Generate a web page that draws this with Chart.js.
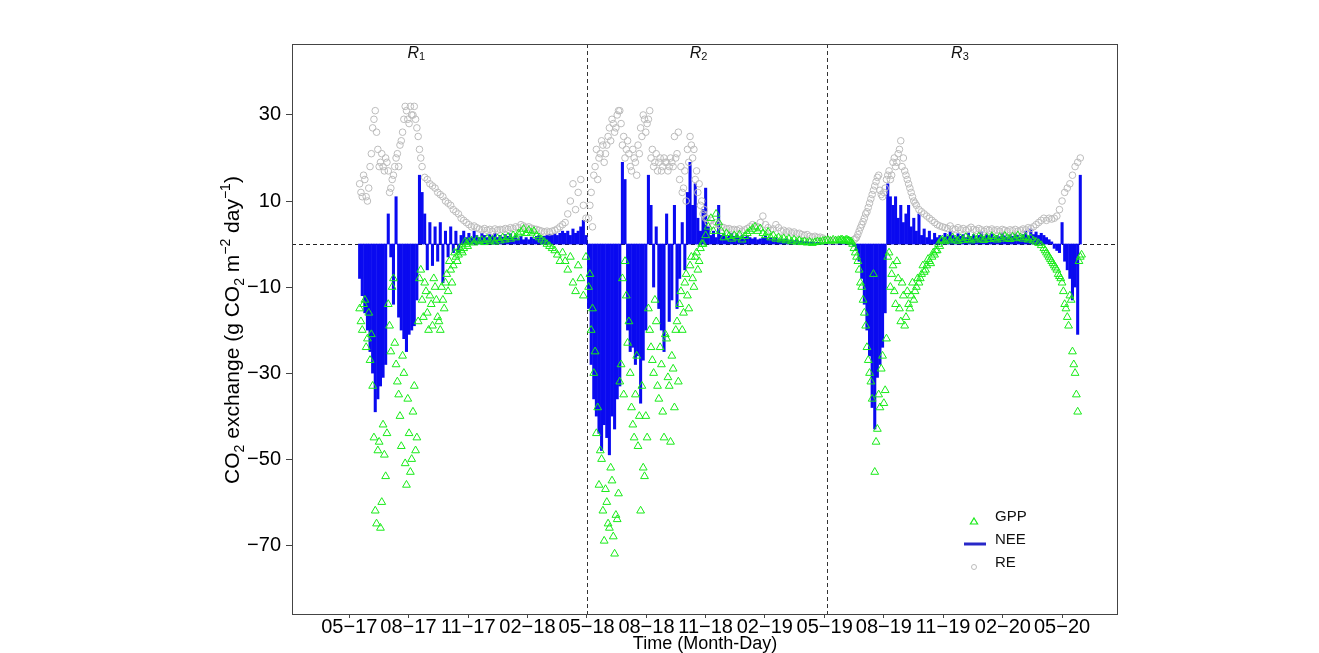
<!DOCTYPE html>
<html>
<head>
<meta charset="utf-8">
<script src="https://cdn.jsdelivr.net/npm/chart.js@4.4.1/dist/chart.umd.min.js"></script>
<style>
  html, body { margin: 0; padding: 0; background: #fff; }
</style>
</head>
<body>
<canvas id="fluxChart" width="1319" height="653"></canvas>
<script>
// time axis: days since 2017-05-01, one tick every 3 months
const tickDays = [0, 91, 183, 274, 365, 457, 548, 639, 731, 822, 913, 1005, 1096];
const tickLabels = ['05−17', '08−17', '11−17', '02−18', '05−18', '08−18', '11−18',
                    '02−19', '05−19', '08−19', '11−19', '02−20', '05−20'];
const yTickValues = [-70, -50, -30, -10, 10, 30];

// growing-season regions
const regionNames = ['1', '2', '3'];
const regionLabelDay = [103, 537, 939];
const regionBounds = [366, 734];

// readings: first day of each block, one value every 4 days
const blockStart = [16, 368, 752];
const stepDays = 4;

// GPP (g CO2 m-2 day-1)
const gppR1 = [
  -15, -20, -13, -22, -27, -33, -62, -48, -66, -42,
  -54, -14, -25, -8, -28, -35, -47, -30, -56, -44,
  -50, -33, -45, -8, -13, -9, -16, -12, -19, -10,
  -17, -20, -13, -9, -11, -6, -5, -3, -2.5, -1.5,
  -1, 0, 0.5, 0.8, 0.3, 1.0, 0.6, 0.9, 0.4, 1.2,
  0.7, 1.0, 0.5, 1.3, 0.8, 1.5, 1.0, 1.6, 1.2, 2.0,
  1.5, 2.4, 2.8, 3.5, 2.5, 3.2, 2.6, 3.0, 2.0, 1.5,
  1.0, 0.5, 0.0, -0.5, -1.0, -1.5, -2.5, -4, -2, -4,
  -6, -3, -9, -11, -5, -8, -12, -3
];
const gppR2 = [
  -10, -20, -30, -44, -56, -50, -69, -60, -66, -55,
  -72, -64, -32, -8, -4, -23, -30, -42, -35, -47,
  -62, -52, -40, -15, -24, -30, -18, -36, -28, -45,
  -22, -33, -26, -38, -18, -14, -20, -9, -12, -5,
  -8, -3, -6, -1, 0, 2, 4, 6, 3, 7,
  5, 3, 1.5, 2.5, 1.8, 1.2, 2.0, 1.5, 2.2, 1.0,
  1.8, 2.5, 3.0, 3.5, 4.0, 3.0, 3.6, 2.5, 2.0, 2.8,
  1.5, 2.0, 1.2, 1.5, 1.0, 1.3, 0.8, 1.2, 0.6, 1.0,
  0.5, 0.8, 0.4, 0.6, 0.3, 0.5, 0.2, 0.4, 0.6, 0.5,
  0.7, 0.8, 0.9, 0.7, 1.0, 0.8
];
const gppR3 = [
  0.9, 1.0, 0.8, 1.0, 0.8, 0.5, -1, -3, -6, -10,
  -16, -24, -30, -36, -53, -43, -38, -26, -34, -3,
  -10, -5, -14, -8, -18, -12, -17, -14, -12, -13,
  -10, -9, -7, -6.5, -5, -4, -3, -2.5, -1.5, -0.5,
  1.0, 0.6, 1.2, 0.8, 1.5, 1.0, 0.7, 1.3, 0.9, 1.6,
  1.1, 0.8, 1.4, 1.0, 1.7, 1.2, 0.9, 1.5, 1.1, 1.8,
  1.3, 1.0, 1.6, 1.2, 1.9, 1.4, 1.1, 1.7, 1.3, 2.0,
  1.5, 1.2, 1.6, 1.0, 1.3, 0.8, 0.5, 0.2, -0.3, -1,
  -2, -3, -4, -5, -6, -7.5, -9, -14, -17, -12,
  -25, -30, -39, -3
];

// extra GPP readings in between (the scattered growing seasons)
const gppMidStart = [18, 370, 754, 1070];
const gppMid1 = [
  -18, -14, -24, -16, -21, -45, -65, -46, -60, -49,
  -44, -19, -10, -23, -32, -40, -26, -51, -36, -53,
  -39, -48, -18, -6, -17, -11, -20, -14, -8, -13,
  -18, -10, -15, -7, -4, -9, -2, -4, -1, -2,
  0.5, -0.5
];
const gppMid2 = [
  -7, -15, -25, -38, -48, -62, -57, -65, -52, -68,
  -63, -58, -28, -35, -12, -18, -38, -45, -26, -40,
  -33, -54, -45, -20, -27, -13, -33, -24, -39, -21,
  -31, -46, -29, -20, -32, -11, -16, -7, -15, -3,
  -10, -2, -4, 0
];
const gppMid3 = [
  0.8, 1.0, 0.7, 0.9, 0.6, 0, -2, -4, -9, -13,
  -19, -27, -32, -7, -46, -35, -29, -37, -22, -2,
  -7, -11, -4, -15, -9, -19, -11, -15, -9, -11,
  -8, -8, -5, -6, -3.5, -4.5, -2, -1.5, 0, 0.8
];
const gppMid4 = [
  -1.5, -2.5, -3.5, -4.5, -5.5, -7, -8, -11, -15, -19,
  -13, -28, -35, -4, -2.5
];

// NEE
const neeR1 = [
  -8, -12, -16, -20, -25, -30, -39, -36, -33, -31,
  -28, 7, -3, -14, 11, -17, -20, -22, -25, -21,
  -20, -19, -13, 16, 12, 7, -6, 5, -5, 4,
  -4, 5, -9, 3, -3, 4, -2, 3, -2, 2,
  3, 1.5, 2.5, 1.5, 3, 2, 1.5, 2.5, 2, 1.5,
  2.2, 1.8, 2.5, 1.5, 2, 1.6, 2.2, 1.8, 2.4, 1.5,
  2, 1.2, 1.8, 1, 1.5, 1, 1.6, 1.2, 1.8, 2,
  1.5, 1.8, 2, 2.2, 2, 2.5, 2, 2.5, 3, 2.5,
  3, 2, 3.5, 2.5, 3, 4, 5.5, 2
];
const neeR2 = [
  -15, -28, -36, -40, -44, -48, -42, -45, -49, -40,
  -43, -36, -33, 19, 15, -20, -25, -24, -28, -26,
  -37, -27, -20, 16, 9, -10, 4, -15, -20, -25,
  7, -18, -13, 9, -15, -8, 5, -6, 12, 19,
  9, 14, 6, 3, 8, 13, 4, 2, 3, 1.5,
  9, 2, 2.5, 1.5, 2, 2.5, 1.8, 2.2, 1.5, 2,
  1.6, 2, 1.5, 1.2, 1.5, 1, 1.2, 1.5, 1.8, 1.2,
  1.5, 1.2, 1.5, 1, 1.2, 1, 1.2, 0.8, 1, 0.8,
  1, 0.6, 0.8, 0.5, 0.6, 0.4, 0.5, 0.3, 0.4, 0.3,
  0.2, 0, 0, 0, 0, 0
];
const neeR3 = [
  0.3, 0.2, 0.3, 0.2, 0.3, 0.2, -0.5, -1.5, -4, -8,
  -14, -20, -26, -38, -43, -31, -28, -24, -16, 14,
  11, 9, 11, 6, 9, 5, 7, 9, 4, 6,
  3, 7, 2, 3.5, 1.5, 3, 1, 2.5, 1.5, 2,
  1.5, 2.5, 1.8, 3.0, 2.0, 1.6, 2.4, 1.8, 2.2, 1.5,
  2.6, 1.8, 2.2, 1.4, 2.0, 2.8, 1.6, 2.2, 1.8, 2.4,
  1.5, 2.0, 1.7, 2.6, 1.9, 1.5, 2.2, 1.8, 2.5, 2.0,
  1.6, 2.2, 3.0, 1.8, 3.5, 2.2, 2.8, 2.0, 2.5, 2,
  1.5, 1, 0.5, -1, -1.5, -2, 5, -4, -6, -8,
  -13, -10, -21, 16
];

// RE
const reR1 = [
  14, 11, 15, 10, 18, 27, 31, 22, 19, 18,
  20, 17, 13, 16, 20, 18, 24, 29, 31, 28,
  30, 32, 27, 22, 18, 15.5, 15, 14, 13.5, 13,
  12, 11.5, 11, 10, 9.5, 9, 8, 7.5, 7, 6,
  5.5, 5, 4.5, 4, 4.2, 3.8, 3.5, 3.3, 3.6, 3.2,
  3.4, 3.0, 3.5, 3.2, 3.4, 3.3, 3.6, 3.4, 3.8, 3.6,
  4, 3.8, 4.5, 4.2, 3.8, 4.0, 3.7, 3.5, 3.4, 3.2,
  3.0, 2.8, 3.0, 2.8, 3.0, 3.2, 3.5, 4, 4.5, 5,
  7, 10, 14, 8, 12, 15, 9, 6
];
const reR2 = [
  6, 12, 16, 22, 20, 24, 19, 23, 27, 29,
  26, 30, 31, 23, 20, 24, 18, 22, 19, 23,
  27, 30, 26, 29, 20, 18, 21, 19, 17, 20,
  19, 18, 19, 25, 21, 15, 12, 17, 22, 25,
  20, 15, 12, 9, 7, 6, 5, 5.5, 4.5, 5,
  4.5, 4, 3.8, 3.5, 3.6, 3.3, 3.4, 3.2, 3.5, 3.0,
  3.3, 3.6, 4, 4.5, 4.2, 4, 5, 6.5, 4.5, 3.8,
  3.2, 3.5, 4.5, 3.8, 3.0, 3.2, 2.8, 3.0, 2.6, 2.8,
  2.4, 2.5, 2.2, 2.0, 2.2, 1.8, 1.6, 1.8, 1.5, 1.6,
  1.4, 1.0, 1.0, 0.8, 0.8, 0.8
];
const reR3 = [
  null, null, null, null, null, null, 1.0, 1.5, 3, 4.5,
  6, 7.5, 9.5, 11.5, 13.5, 15.5, 12.5, 11, 13, 16,
  15, 19, 18, 21, 24, 20, 16, 14, 12, 10,
  9, 8, 7.5, 7, 6.5, 6, 5.5, 5, 4.5, 4.2,
  4.0, 3.8, 3.6, 4.2, 3.5, 3.4, 3.8, 3.3, 3.6, 3.2,
  3.5, 3.9, 3.4, 3.2, 3.6, 3.3, 3.0, 3.4, 3.2, 3.5,
  3.1, 3.3, 3.0, 3.4, 3.2, 2.9, 3.3, 3.1, 3.4, 3.0,
  3.2, 3.5, 3.3, 3.8, 3.6, 4.0, 4.5, 5.0, 5.5, 6,
  5.5, 6, 5.8, 6, 6.5, 8, 10, 12, 13, 14,
  16, 18, 19, 20
];

// extra RE readings in between (growing seasons)
const reMidStart = [18, 370, 778];
const reMid1 = [
  12, 16, 11, 13, 21, 29, 26, 18, 21, 17,
  19, 12, 15, 18, 21, 23, 26, 32, 29, 32,
  30, 29, 25, 20
];
const reMid2 = [
  9, 4, 18, 15, 21, 23, 21, 25, 24, 28,
  27, 31, 28, 25, 22, 21, 17, 20, 16, 21,
  25, 29, 28, 31, 22, 19, 17, 20, 18, 19,
  17, 20, 18, 20, 26, 18, 13, 10, 19, 23,
  22, 17, 14, 10, 8, 6
];
const reMid3 = [
  1.2, 2.2, 3.8, 5.2, 7, 8.5, 10.5, 12.5, 14.5, 16,
  11.5, 12, 15, 17, 16, 20, 19, 22, 18, 17,
  15, 13, 11, 9.5
];

const FONT = "'Liberation Sans', Arial, sans-serif";
const GREEN = 'rgb(25,235,25)';
const BLUE = 'rgb(10,10,240)';
const GREY = 'rgb(188,188,188)';

Chart.defaults.font.family = FONT;
Chart.defaults.color = '#000';

// turn blocks of readings into {x: day, y: value} points
function toPoints(blocks, starts) {
  const pts = [];
  blocks.forEach((vals, b) => {
    vals.forEach((v, i) => pts.push({ x: starts[b] + i * stepDays, y: v }));
  });
  return pts;
}

function fmtNum(v) {
  return v < 0 ? '−' + Math.abs(v) : String(v);
}

// draw a run of text pieces with sub/superscripts, starting at x
function drawPieces(ctx, pieces, x, y) {
  pieces.forEach(p => {
    ctx.font = (p.italic ? 'italic ' : '') + p.size + 'px ' + FONT;
    ctx.fillText(p.t, x, y + (p.dy || 0));
    x += ctx.measureText(p.t).width;
  });
  return x;
}
function piecesWidth(ctx, pieces) {
  let w = 0;
  pieces.forEach(p => {
    ctx.font = (p.italic ? 'italic ' : '') + p.size + 'px ' + FONT;
    w += ctx.measureText(p.t).width;
  });
  return w;
}

const overlay = {
  id: 'overlay',
  beforeDatasetsDraw(chart) {
    const { ctx, chartArea: a, scales: { x, y } } = chart;
    ctx.save();
    ctx.setLineDash([4, 3]);
    ctx.lineWidth = 1;
    ctx.strokeStyle = '#222';
    const y0 = Math.round(y.getPixelForValue(0)) + 0.5;
    ctx.beginPath();
    ctx.moveTo(a.left, y0);
    ctx.lineTo(a.right, y0);
    ctx.stroke();
    ctx.strokeStyle = '#333';
    regionBounds.forEach(d => {
      const px = Math.round(x.getPixelForValue(d)) + 0.5;
      ctx.beginPath();
      ctx.moveTo(px, a.top);
      ctx.lineTo(px, a.bottom);
      ctx.stroke();
    });
    ctx.restore();
  },
  afterDraw(chart) {
    const { ctx, chartArea: a, scales: { x } } = chart;
    ctx.save();

    // frame
    ctx.strokeStyle = '#444';
    ctx.lineWidth = 1;
    ctx.strokeRect(a.left + 0.5, a.top + 0.5, a.right - a.left - 1, a.bottom - a.top);

    // region labels R1 R2 R3
    ctx.fillStyle = '#111';
    ctx.textBaseline = 'alphabetic';
    ctx.textAlign = 'left';
    regionNames.forEach((n, k) => {
      const pieces = [{ t: 'R', size: 16, italic: true }, { t: n, size: 11, dy: 2 }];
      const cx = x.getPixelForValue(regionLabelDay[k]);
      drawPieces(ctx, pieces, cx - piecesWidth(ctx, pieces) / 2, a.top + 14);
    });

    // y-axis title
    const title = [
      { t: 'CO', size: 21 }, { t: '2', size: 14, dy: 5 },
      { t: ' exchange (g CO', size: 21 }, { t: '2', size: 14, dy: 5 },
      { t: ' m', size: 21 }, { t: '−2', size: 14, dy: -9 },
      { t: ' day', size: 21 }, { t: '−1', size: 14, dy: -9 },
      { t: ')', size: 21 }
    ];
    ctx.fillStyle = '#000';
    ctx.translate(239, (a.top + a.bottom) / 2 + 1);
    ctx.rotate(-Math.PI / 2);
    drawPieces(ctx, title, -piecesWidth(ctx, title) / 2, 0);
    ctx.setTransform(1, 0, 0, 1, 0, 0);

    // legend
    const mx = a.right - 144, tx = a.right - 123;
    ctx.lineWidth = 1.2;
    ctx.strokeStyle = GREEN;
    ctx.beginPath();
    ctx.moveTo(mx, a.bottom - 96);
    ctx.lineTo(mx + 3.6, a.bottom - 90);
    ctx.lineTo(mx - 3.6, a.bottom - 90);
    ctx.closePath();
    ctx.stroke();
    ctx.strokeStyle = 'rgb(40,40,200)';
    ctx.lineWidth = 3;
    ctx.beginPath();
    ctx.moveTo(mx - 10, a.bottom - 70);
    ctx.lineTo(mx + 12, a.bottom - 70);
    ctx.stroke();
    ctx.strokeStyle = GREY;
    ctx.lineWidth = 1;
    ctx.beginPath();
    ctx.arc(mx, a.bottom - 47, 2.5, 0, Math.PI * 2);
    ctx.stroke();
    ctx.fillStyle = '#111';
    ctx.font = '15px ' + FONT;
    ctx.textBaseline = 'middle';
    ctx.fillText('GPP', tx, a.bottom - 97);
    ctx.fillText('NEE', tx, a.bottom - 74);
    ctx.fillText('RE', tx, a.bottom - 51);
    ctx.restore();
  }
};

const ctx = document.getElementById('fluxChart').getContext('2d');
const fluxChart = new Chart(ctx, {
  type: 'bar',
  data: {
    datasets: [
      {
        type: 'bar',
        label: 'NEE',
        data: toPoints([neeR1, neeR2, neeR3], blockStart),
        backgroundColor: BLUE,
        borderWidth: 0,
        barThickness: 2.4,
        order: 3
      },
      {
        type: 'scatter',
        label: 'RE',
        data: toPoints([reR1, reR2, reR3], blockStart)
          .concat(toPoints([reMid1, reMid2, reMid3], reMidStart)),
        pointStyle: 'circle',
        pointRadius: 3.3,
        borderColor: GREY,
        backgroundColor: 'rgba(0,0,0,0)',
        borderWidth: 1,
        order: 2
      },
      {
        type: 'scatter',
        label: 'GPP',
        data: toPoints([gppR1, gppR2, gppR3], blockStart)
          .concat(toPoints([gppMid1, gppMid2, gppMid3, gppMid4], gppMidStart)),
        pointStyle: 'triangle',
        pointRadius: 4.5,
        borderColor: GREEN,
        backgroundColor: 'rgba(0,0,0,0)',
        borderWidth: 1,
        order: 1
      }
    ]
  },
  options: {
    responsive: false,
    animation: false,
    layout: { padding: { left: 0, right: 201, top: 44, bottom: 0 } },
    plugins: {
      legend: { display: false },
      tooltip: { enabled: false }
    },
    scales: {
      x: {
        type: 'linear',
        min: -88,
        max: 1182,
        offset: false,
        afterBuildTicks: s => { s.ticks = tickDays.map(v => ({ value: v })); },
        afterFit: s => { s.height = 39; },
        ticks: {
          callback: (v, i) => tickLabels[i],
          autoSkip: false,
          maxRotation: 0,
          font: { size: 20 },
          color: '#000',
          padding: -3
        },
        grid: { drawOnChartArea: false, offset: false, tickLength: 4, color: '#444' },
        border: { display: false },
        title: {
          display: true,
          text: 'Time (Month-Day)',
          font: { size: 18 },
          color: '#000',
          padding: { top: 0, bottom: -2 }
        }
      },
      y: {
        min: -86,
        max: 46.5,
        afterBuildTicks: s => { s.ticks = yTickValues.map(v => ({ value: v })); },
        afterFit: s => { s.width = 292; },
        ticks: {
          callback: v => fmtNum(v),
          font: { size: 20 },
          color: '#000',
          padding: 5
        },
        grid: { drawOnChartArea: false, tickLength: 6, color: '#444' },
        border: { display: false }
      }
    }
  },
  plugins: [overlay]
});
</script>
</body>
</html>
